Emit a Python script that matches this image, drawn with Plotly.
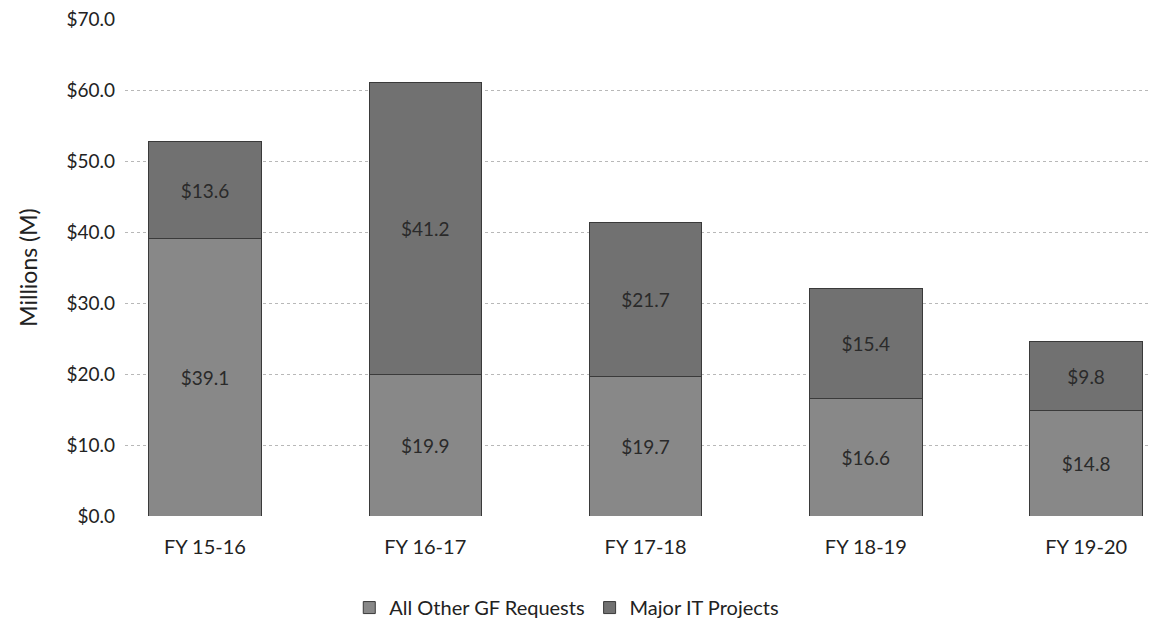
import plotly.graph_objects as go

categories = ["FY 15-16", "FY 16-17", "FY 17-18", "FY 18-19", "FY 19-20"]
other_gf = [39.1, 19.9, 19.7, 16.6, 14.8]
major_it = [13.6, 41.2, 21.7, 15.4, 9.8]
y_ticks = [0, 10, 20, 30, 40, 50, 60, 70]
y_tick_labels = ["$%.1f" % v for v in y_ticks]

font_family = "Lato, Open Sans, sans-serif"

fig = go.Figure()
fig.add_trace(go.Bar(
    x=list(range(len(categories))), y=other_gf, name="All Other GF Requests",
    marker=dict(color="#888888", line=dict(color="#3a3a3a", width=1)),
    text=["$%.1f" % v for v in other_gf], textposition="inside", textangle=0,
    insidetextanchor="middle", textfont=dict(color="#2a2a2a", size=19, family=font_family),
    width=0.51,
))
fig.add_trace(go.Bar(
    x=list(range(len(categories))), y=major_it, name="Major IT Projects",
    marker=dict(color="#717171", line=dict(color="#3a3a3a", width=1)),
    text=["$%.1f" % v for v in major_it], textposition="inside", textangle=0,
    insidetextanchor="middle", textfont=dict(color="#2a2a2a", size=19, family=font_family),
    width=0.51,
))

fig.update_layout(
    barmode="stack",
    width=1157, height=633,
    margin=dict(l=117, r=15, t=11, b=125, autoexpand=False),
    paper_bgcolor="white", plot_bgcolor="white",
    font=dict(family=font_family, size=20, color="#222222"),
    uniformtext=dict(mode=False),
    legend=dict(orientation="h", x=0.431, xanchor="center",
                y=-0.145, yanchor="top",
                font=dict(size=20, color="#222222"), traceorder="normal"),
    showlegend=True,
)
fig.update_xaxes(
    tickmode="array", tickvals=list(range(len(categories))), ticktext=categories,
    range=[-0.363, 4.29], showgrid=False, zeroline=False, showline=False,
    ticks="", tickfont=dict(size=20), ticklabelstandoff=17, tickangle=0,
)
fig.update_yaxes(
    range=[0, 70], tickmode="array", tickvals=y_ticks, ticktext=y_tick_labels,
    showgrid=True, gridcolor="#b8b8b8", griddash="dot", gridwidth=1,
    zeroline=False, showline=False, ticks="", ticklabelstandoff=9,
    ticklabeloverflow="allow",
    title=dict(text="Millions (M)", font=dict(size=23), standoff=22),
    tickfont=dict(size=19),
)

fig.write_html("out.html")
